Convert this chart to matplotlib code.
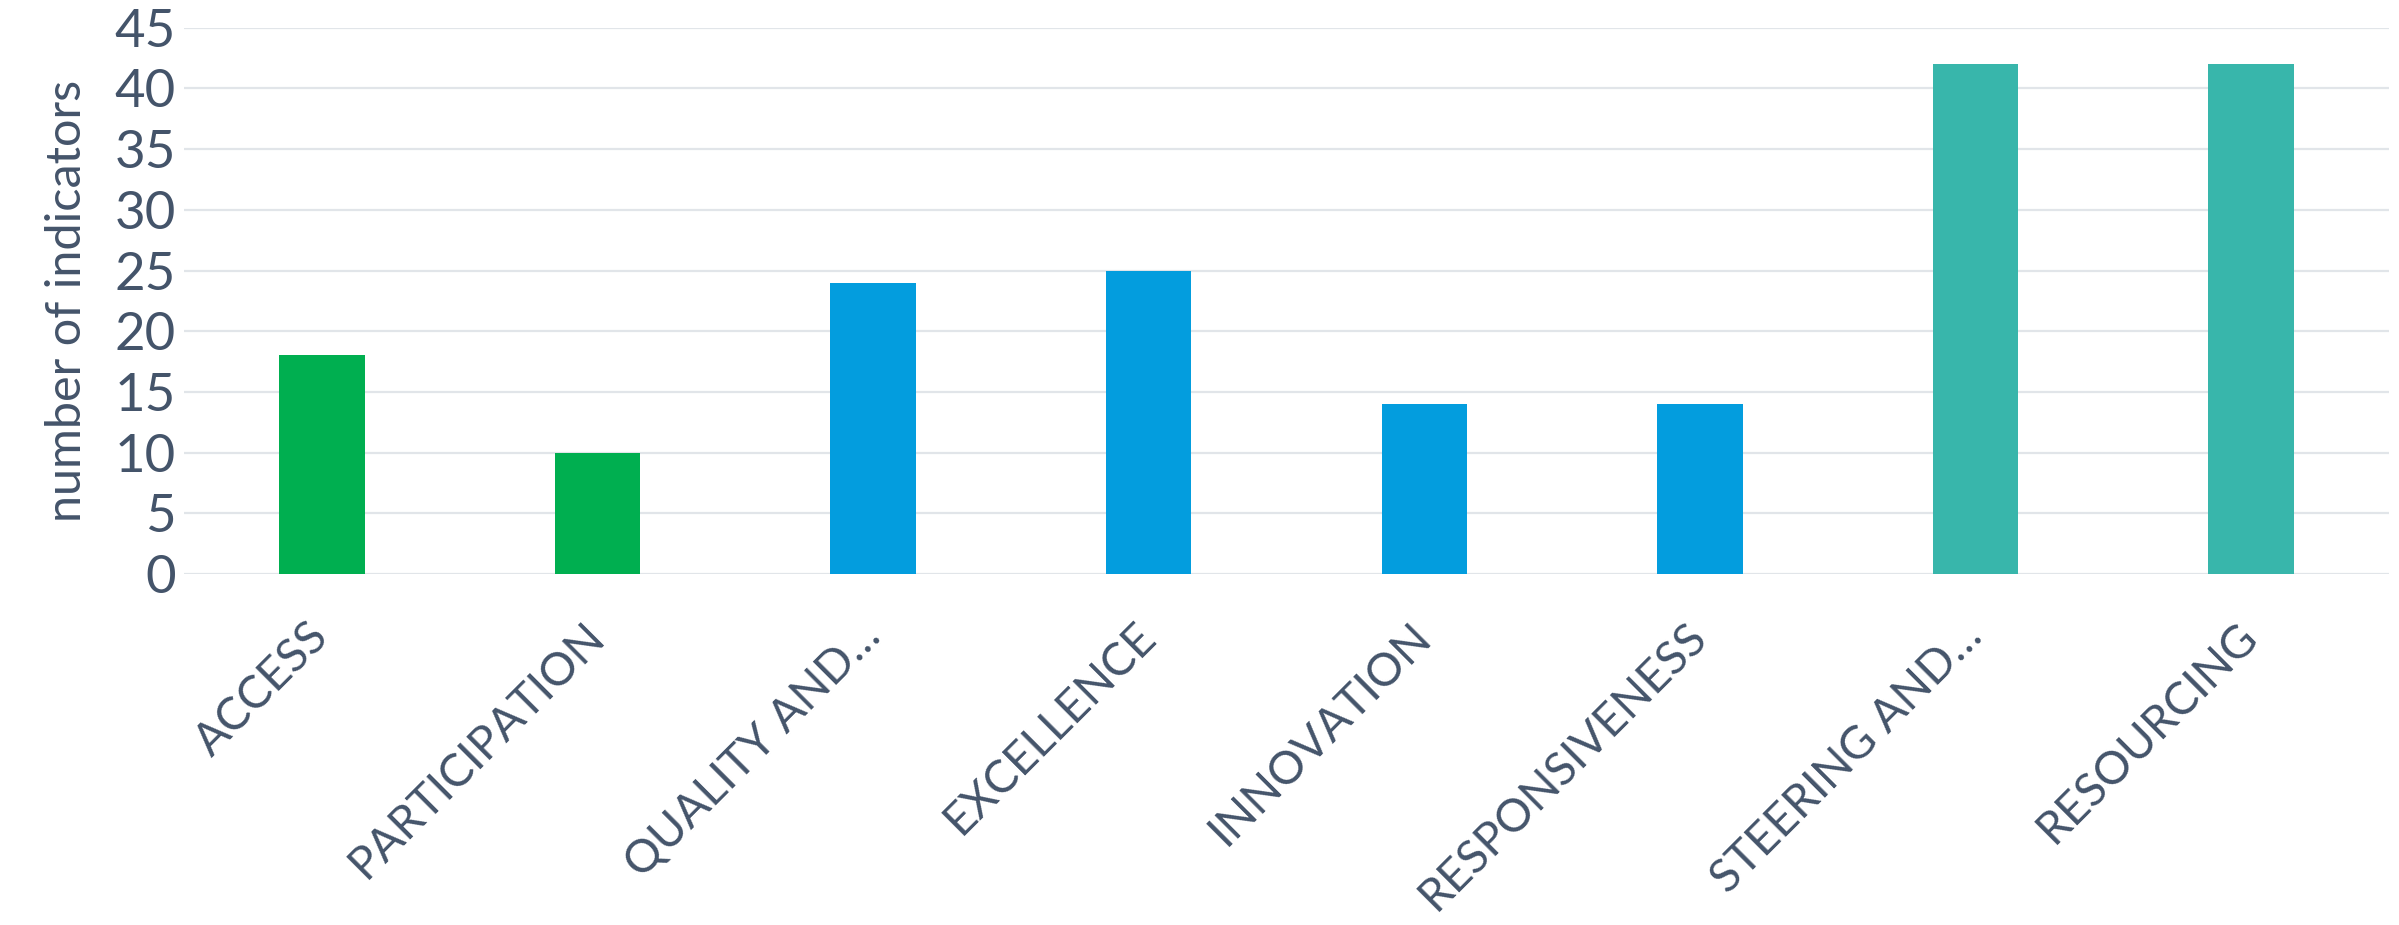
import matplotlib.pyplot as plt

# indicator counts per dimension
categories = ["ACCESS", "PARTICIPATION", "QUALITY AND\u2026", "EXCELLENCE",
              "INNOVATION", "RESPONSIVENESS", "STEERING AND\u2026", "RESOURCING"]
counts = [18, 10, 24, 25, 14, 14, 42, 42]
groups = ["equity", "equity", "performance", "performance",
          "performance", "performance", "system", "system"]
yticks = list(range(0, 46, 5))

group_colors = {"equity": "#00AF50", "performance": "#039DDE", "system": "#38B6AB"}
text_color = "#44546A"
grid_color = "#E1E5E9"

plt.rcParams["font.family"] = ["Lato", "DejaVu Sans"]

fig = plt.figure(figsize=(23.99, 9.25), dpi=100)
ax = fig.add_axes([0.0767, 0.3795, 0.9191, 0.5905])

x = list(range(len(categories)))
ax.bar(x, counts, width=0.31, color=[group_colors[g] for g in groups], zorder=2)

ax.set_xlim(-0.5, len(categories) - 0.5)
ax.set_ylim(0, 45)
ax.set_yticks(yticks)
ax.grid(axis="y", color=grid_color, linewidth=1.6, zorder=0)
ax.set_axisbelow(True)
for side in ["top", "right", "left", "bottom"]:
    ax.spines[side].set_visible(False)

ax.tick_params(axis="both", length=0, colors=text_color)
ax.tick_params(axis="y", labelsize=38, pad=6)
ax.set_xticks(x)
ax.set_xticklabels(categories, rotation=45, ha="right", va="center",
                   rotation_mode="anchor", fontsize=33, color=text_color)
ax.tick_params(axis="x", pad=40)

ax.set_ylabel("number of indicators", fontsize=35, color=text_color, labelpad=18)

fig.savefig("out.png", dpi=100, facecolor="white")
